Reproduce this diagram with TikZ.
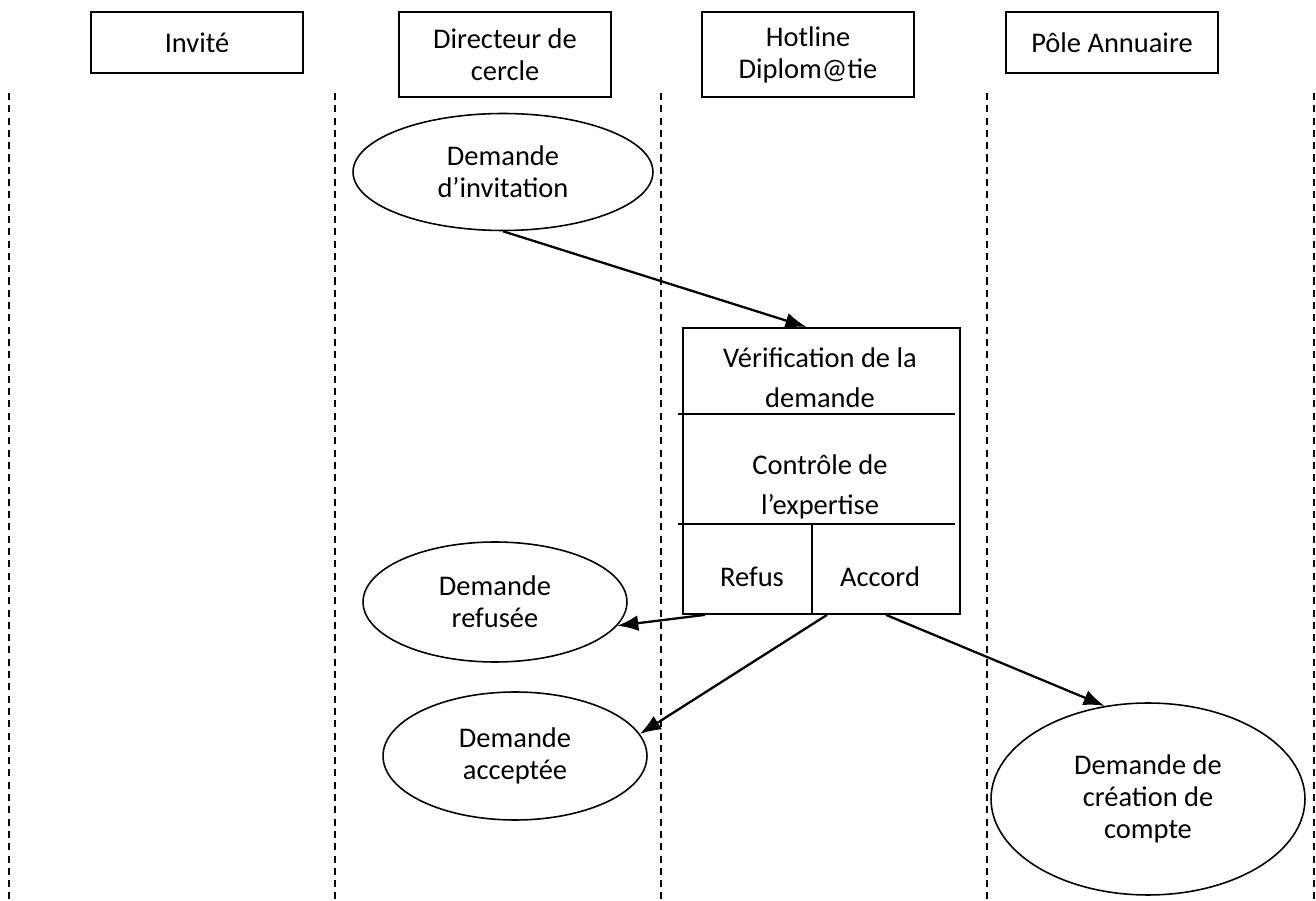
\documentclass[tikz,border=0pt]{standalone}
\usepackage{fontspec}
\setmainfont{Carlito}
\usetikzlibrary{shapes.geometric,arrows.meta,calc}

\begin{document}
\begin{tikzpicture}[x=0.02cm,y=-0.02cm,
  font=\fontsize{16.2}{18.2}\selectfont,
  entete/.style={draw, line width=1.1pt, align=center, inner sep=0pt, minimum width=4.24cm},
  bulle/.style={draw, ellipse, line width=0.9pt, align=center, inner sep=0pt},
  etape/.style={align=center, font=\fontsize{16.2}{22.8}\selectfont},
  couloir/.style={line width=0.9pt, dash pattern=on 4pt off 3pt},
  fleche/.style={line width=1.3pt, -{Latex[length=12pt,width=9pt]}}]
\useasboundingbox (0,0) rectangle (1316,901);

% Couloirs
\foreach \x in {9,335,661,987,1314}
  \draw[couloir] (\x,93) -- (\x,901);

% En-tetes
\node[entete, minimum height=1.22cm, anchor=north] (invite) at (197,11) {Invité};
\node[entete, minimum height=1.7cm, anchor=north] (directeur) at (505,11) {Directeur de\\cercle};
\node[entete, minimum height=1.7cm, anchor=north] (hotline) at (808,11) {Hotline\\Diplom@tie};
\node[entete, minimum height=1.22cm, anchor=north] (pole) at (1112,11) {Pôle Annuaire};

% Demandes
\node[bulle, minimum width=6cm, minimum height=2.34cm] (invitation) at (503,172) {Demande\\d’invitation};
\node[bulle, minimum width=5.28cm, minimum height=2.4cm] (refusee) at (495,602) {Demande\\refusée};
\node[bulle, minimum width=5.28cm, minimum height=2.56cm] (acceptee) at (515,756) {Demande\\acceptée};
\node[bulle, minimum width=6.28cm, minimum height=3.84cm] (compte) at (1148,799) {Demande de\\création de\\compte};

% Traitement par la hotline
\node[draw, line width=1.1pt, minimum width=5.54cm, minimum height=5.72cm, anchor=north west] (controle) at (682,327) {};
\draw[line width=0.9pt] (678,414) -- (955,414);
\draw[line width=0.9pt] (678,524) -- (955,524);
\draw[line width=0.9pt] (812,524) -- (812,613);
\node[etape] (verif) at (820,378) {Vérification de la\\demande};
\node[etape] (expertise) at (820,487) {Contrôle de\\l’expertise};
\node (refus) at (752,577) {Refus};
\node (accord) at (880,577) {Accord};

% Fleches
\draw[fleche] (invitation.south) -- ($(controle.north)+(-15,0)$);
\draw[fleche] ($(controle.south west)+(23,0)$) -- (refusee.-11);
\draw[fleche] ($(controle.south west)+(145,0)$) -- (acceptee.10);
\draw[fleche] ($(controle.south west)+(204,0)$) -- (compte.115);

\end{tikzpicture}
\end{document}
